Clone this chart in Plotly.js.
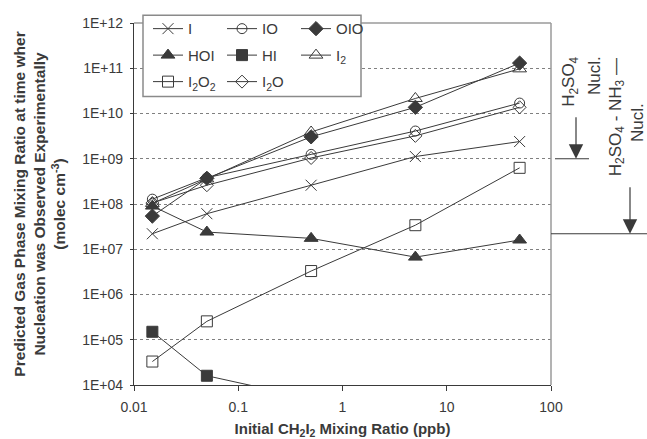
<!DOCTYPE html>
<html>
<head>
<meta charset="utf-8">
<script src="https://cdn.plot.ly/plotly-3.0.1.min.js"></script>
<style>html,body{margin:0;padding:0;background:#fff;}#chart{width:647px;height:439px;}</style>
</head>
<body>
<div id="chart"></div>
<script>
// ---- data ----
const ch2i2Ppb = [0.015, 0.05, 0.5, 5, 50];
const seriesI    = [2.2e7, 6.1e7, 2.6e8, 1.12e9, 2.4e9];
const seriesIO   = [1.28e8, 3.8e8, 1.25e9, 4.1e9, 1.7e10];
const seriesOIO  = [5.4e7, 3.7e8, 3.05e9, 1.37e10, 1.3e11];
const seriesHOI  = [9.0e7, 2.4e7, 1.74e7, 6.7e6, 1.6e7];
const seriesHI   = [1.5e5, 1.6e4, 5.0e3, null, null];
const seriesI2   = [1.03e8, 3.6e8, 3.9e9, 2.15e10, 9.7e10];
const seriesI2O2 = [3.3e4, 2.55e5, 3.3e6, 3.4e7, 6.3e8];
const seriesI2O  = [1.05e8, 2.6e8, 1.04e9, 3.2e9, 1.37e10];

const xTickVals = [0.01, 0.1, 1, 10, 100];
const xTickText = ['0.01', '0.1', '1', '10', '100'];
const yTickVals = [1e4, 1e5, 1e6, 1e7, 1e8, 1e9, 1e10, 1e11, 1e12];
const yTickText = ['1E+04', '1E+05', '1E+06', '1E+07', '1E+08', '1E+09', '1E+10', '1E+11', '1E+12'];

const thresholdNames  = ['H2SO4 Nucl.', 'H2SO4 - NH3 Nucl.'];
const thresholdValues = [1e9, 2.2e7];

// ---- styling ----
const INK = '#3a3a3a';
const FONT = 'Liberation Sans, Arial, sans-serif';
const M = {l: 134, r: 96, t: 16, b: 54};
const W = 647, H = 439;
const PW = W - M.l - M.r, PH = H - M.t - M.b;
const px2x = p => (p - M.l) / PW;
const px2y = p => (H - M.b - p) / PH;

function tr(name, y, symbol, size, legend) {
  return {
    type: 'scatter', mode: 'lines+markers', name: name,
    x: ch2i2Ppb, y: y, legend: legend,
    line: {color: INK, width: 1},
    marker: {symbol: symbol, size: size, color: INK, line: {color: INK, width: 1}},
    connectgaps: false
  };
}

const data = [
  tr('I', seriesI, 'x-thin-open', 11, 'legend'),
  tr('IO', seriesIO, 'circle-open', 10, 'legend'),
  tr('OIO', seriesOIO, 'diamond', 11, 'legend'),
  tr('HOI', seriesHOI, 'triangle-up', 12, 'legend2'),
  tr('HI', seriesHI, 'square', 11, 'legend2'),
  tr('I<sub>2</sub>', seriesI2, 'triangle-up-open', 12, 'legend2'),
  tr('I<sub>2</sub>O<sub>2</sub>', seriesI2O2, 'square-open', 11, 'legend3'),
  tr('I<sub>2</sub>O', seriesI2O, 'diamond-open', 10, 'legend3')
];

function legendRow(yPx) {
  return {
    orientation: 'h', x: px2x(148), xanchor: 'left', y: px2y(yPx), yanchor: 'middle',
    bgcolor: 'rgba(0,0,0,0)', borderwidth: 0, entrywidth: 29, entrywidthmode: 'pixels',
    font: {family: FONT, size: 15, color: INK}, itemclick: false, itemdoubleclick: false
  };
}

const shapes = [
  {type: 'line', xref: 'paper', yref: 'paper', x0: 0, x1: 1, y0: 1, y1: 1, line: {color: '#9a9a9a', width: 1.5}},
  {type: 'line', xref: 'paper', yref: 'paper', x0: 1, x1: 1, y0: 0, y1: 1, line: {color: '#9a9a9a', width: 1.5}},
  {type: 'rect', xref: 'paper', yref: 'paper', x0: px2x(143), x1: px2x(361), y0: px2y(91), y1: px2y(8),
   fillcolor: '#ffffff', line: {color: '#8a8a8a', width: 1.5}, layer: 'above'},
  {type: 'line', xref: 'paper', yref: 'y', x0: px2x(555), x1: px2x(589), y0: thresholdValues[0], y1: thresholdValues[0], line: {color: INK, width: 1.2}},
  {type: 'line', xref: 'paper', yref: 'y', x0: px2x(551), x1: px2x(647), y0: thresholdValues[1], y1: thresholdValues[1], line: {color: INK, width: 1.2}}
];

function vtext(xPx, yPx, text, size) {
  return {xref: 'paper', yref: 'paper', x: px2x(xPx), y: px2y(yPx), text: text, textangle: -90,
          showarrow: false, font: {family: FONT, size: size, color: INK}, xanchor: 'center', yanchor: 'middle'};
}
const annotations = [
  vtext(570, 76, 'H<sub>2</sub>SO<sub>4</sub>', 17),
  vtext(595, 70, 'Nucl.', 17),
  vtext(617, 112, 'H<sub>2</sub>SO<sub>4</sub> - NH<sub>3</sub> \u2014', 17),
  vtext(637, 118, 'Nucl.', 17),
  {xref: 'paper', yref: 'y', x: px2x(576), y: Math.log10(thresholdValues[0]), text: ' ', showarrow: true, ax: 0, ay: -51,
   arrowhead: 2, arrowsize: 2.4, arrowwidth: 1.2, arrowcolor: INK, standoff: 0},
  {xref: 'paper', yref: 'y', x: px2x(630), y: Math.log10(thresholdValues[1]), text: ' ', showarrow: true, ax: 0, ay: -56,
   arrowhead: 2, arrowsize: 2.4, arrowwidth: 1.2, arrowcolor: INK, standoff: 0}
];

const layout = {
  width: W, height: H, margin: M,
  paper_bgcolor: '#ffffff', plot_bgcolor: '#ffffff',
  font: {family: FONT, color: INK, size: 14},
  showlegend: true,
  legend: legendRow(22), legend2: legendRow(49), legend3: legendRow(76),
  xaxis: {
    type: 'log', range: [-2, 2], tickvals: xTickVals, ticktext: xTickText,
    ticks: 'outside', ticklen: 5, tickcolor: INK, tickwidth: 1, ticklabelstandoff: 4,
    showline: true, linecolor: INK, linewidth: 1.2, showgrid: false, zeroline: false,
    tickfont: {family: FONT, size: 14, color: INK},
    title: {text: 'Initial CH<sub>2</sub>I<sub>2</sub> Mixing Ratio (ppb)', font: {family: FONT, size: 15, color: INK, weight: 'bold'}, standoff: 11},
    automargin: false
  },
  yaxis: {
    type: 'log', range: [4, 12], tickvals: yTickVals, ticktext: yTickText,
    ticks: 'outside', ticklen: 3, tickcolor: INK, tickwidth: 1, ticklabelstandoff: 4,
    showline: true, linecolor: INK, linewidth: 1.2,
    showgrid: true, gridcolor: '#808080', griddash: 'dot', gridwidth: 1, zeroline: false,
    tickfont: {family: FONT, size: 14, color: INK},
    title: {text: 'Predicted Gas Phase Mixing Ratio at time wher<br>Nucleation was Observed Experimentally<br>(molec cm<sup>-3</sup>)',
            font: {family: FONT, size: 15.5, color: INK, weight: 'bold'}, standoff: 12},
    automargin: false
  },
  yaxis2: {
    type: 'log', range: [4, 12], overlaying: 'y', side: 'left', tickvals: yTickVals,
    ticks: 'inside', ticklen: 3, tickcolor: INK, tickwidth: 1,
    showticklabels: false, showgrid: false, showline: false, zeroline: false
  },
  shapes: shapes,
  annotations: annotations
};

Plotly.newPlot('chart', data, layout, {staticPlot: true, displayModeBar: false});
</script>
</body>
</html>
